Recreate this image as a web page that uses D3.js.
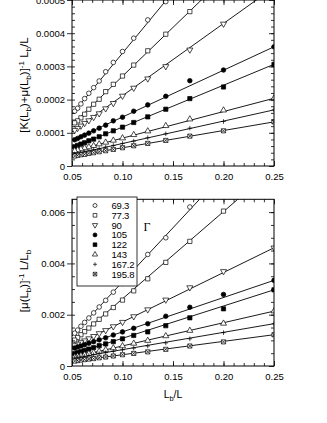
<!DOCTYPE html>
<html>
<head>
<meta charset="utf-8">
<script src="https://cdn.jsdelivr.net/npm/d3@7"></script>
<style>
  body { margin: 0; background: #fff; }
  svg text { font-family: "Liberation Sans", Arial, sans-serif; fill: #000; }
</style>
</head>
<body>
<svg id="chart" width="327" height="423"></svg>
<script>
// x = Lb/L  (L = 4 Lb ... 19 Lb)
var xVals = [0.25, 0.2, 0.16667, 0.14286, 0.125, 0.11111, 0.1, 0.09091, 0.08333, 0.07692, 0.07143, 0.06667, 0.0625, 0.05882, 0.05556, 0.05263];
var gammas = ["69.3", "77.3", "90", "105", "122", "143", "167.2", "195.8"];
var kinds = ["circle", "square", "tridown", "dot", "box", "triup", "plus", "xbox"];

// upper panel: [K(Lb)+mu(Lb)]^-1 Lb/L
var up693 = [null, null, null, 4.95e-4, 4.40e-4, 3.85e-4, 3.45e-4, 3.12e-4, 2.84e-4, 2.56e-4, 2.36e-4, 2.19e-4, 2.03e-4, 1.87e-4, 1.74e-4, 1.65e-4];
var up773 = [null, null, 4.65e-4, 3.97e-4, 3.47e-4, 3.04e-4, 2.71e-4, 2.46e-4, 2.24e-4, 2.01e-4, 1.86e-4, 1.71e-4, 1.56e-4, 1.45e-4, 1.36e-4, 1.30e-4];
var up90 = [null, 4.28e-4, 3.50e-4, 3.00e-4, 2.63e-4, 2.35e-4, 2.11e-4, 1.89e-4, 1.73e-4, 1.58e-4, 1.47e-4, 1.37e-4, 1.29e-4, 1.21e-4, 1.14e-4, 1.08e-4];
var up105 = [3.59e-4, 2.89e-4, 2.57e-4, 2.10e-4, 1.84e-4, 1.65e-4, 1.47e-4, 1.36e-4, 1.23e-4, 1.14e-4, 1.06e-4, 0.99e-4, 0.93e-4, 0.88e-4, 0.83e-4, 0.79e-4];
var up122 = [3.06e-4, 2.38e-4, 2.03e-4, 1.71e-4, 1.48e-4, 1.31e-4, 1.17e-4, 1.06e-4, 0.97e-4, 0.88e-4, 0.81e-4, 0.76e-4, 0.70e-4, 0.66e-4, 0.62e-4, 0.58e-4];
var up143 = [2.04e-4, 1.68e-4, 1.41e-4, 1.21e-4, 1.05e-4, 0.94e-4, 0.84e-4, 0.77e-4, 0.71e-4, 0.66e-4, 0.61e-4, 0.57e-4, 0.54e-4, 0.51e-4, 0.48e-4, 0.46e-4];
var up1672 = [1.69e-4, 1.34e-4, 1.14e-4, 0.97e-4, 0.85e-4, 0.75e-4, 0.68e-4, 0.62e-4, 0.57e-4, 0.52e-4, 0.49e-4, 0.45e-4, 0.43e-4, 0.40e-4, 0.38e-4, 0.36e-4];
var up1958 = [1.33e-4, 1.06e-4, 0.90e-4, 0.77e-4, 0.68e-4, 0.61e-4, 0.55e-4, 0.50e-4, 0.46e-4, 0.43e-4, 0.40e-4, 0.38e-4, 0.35e-4, 0.34e-4, 0.32e-4, 0.30e-4];
// straight-line fits y = a + b x
var upFitA = [-2.8e-5, -2.35e-5, -0.58e-5, 0.65e-5, -0.87e-5, 0.4e-5, 0.03e-5, 0.29e-5];
var upFitB = [36.8e-4, 29.4e-4, 21.75e-4, 14.1e-4, 12.6e-4, 8.0e-4, 6.75e-4, 5.2e-4];
var upTicks = [0, 0.0001, 0.0002, 0.0003, 0.0004, 0.0005];

// lower panel: [mu(Lb)]^-1 L/Lb
var lo693 = [null, null, 6.20e-3, 5.00e-3, 4.35e-3, 3.80e-3, 3.22e-3, 2.88e-3, 2.56e-3, 2.30e-3, 2.07e-3, 1.87e-3, 1.70e-3, 1.55e-3, 1.40e-3, 1.28e-3];
var lo773 = [null, 6.04e-3, 4.86e-3, 4.04e-3, 3.40e-3, 2.93e-3, 2.57e-3, 2.28e-3, 2.03e-3, 1.82e-3, 1.64e-3, 1.48e-3, 1.34e-3, 1.22e-3, 1.11e-3, 1.01e-3];
var lo90 = [4.61e-3, 3.69e-3, 3.06e-3, 2.58e-3, 2.20e-3, 1.93e-3, 1.71e-3, 1.54e-3, 1.39e-3, 1.27e-3, 1.16e-3, 1.07e-3, 0.99e-3, 0.92e-3, 0.86e-3, 0.80e-3];
var lo105 = [3.34e-3, 2.79e-3, 2.29e-3, 1.94e-3, 1.65e-3, 1.47e-3, 1.33e-3, 1.21e-3, 1.10e-3, 1.02e-3, 0.95e-3, 0.89e-3, 0.83e-3, 0.78e-3, 0.74e-3, 0.70e-3];
var lo122 = [2.97e-3, 2.23e-3, 1.88e-3, 1.57e-3, 1.33e-3, 1.19e-3, 1.06e-3, 0.95e-3, 0.86e-3, 0.79e-3, 0.72e-3, 0.66e-3, 0.61e-3, 0.56e-3, 0.52e-3, 0.48e-3];
var lo143 = [2.14e-3, 1.66e-3, 1.38e-3, 1.17e-3, 0.99e-3, 0.88e-3, 0.78e-3, 0.70e-3, 0.63e-3, 0.57e-3, 0.52e-3, 0.48e-3, 0.44e-3, 0.41e-3, 0.38e-3, 0.35e-3];
var lo1672 = [1.65e-3, 1.30e-3, 1.06e-3, 0.90e-3, 0.78e-3, 0.70e-3, 0.63e-3, 0.57e-3, 0.52e-3, 0.48e-3, 0.44e-3, 0.41e-3, 0.38e-3, 0.36e-3, 0.34e-3, 0.32e-3];
var lo1958 = [1.22e-3, 0.94e-3, 0.78e-3, 0.65e-3, 0.55e-3, 0.49e-3, 0.44e-3, 0.39e-3, 0.35e-3, 0.32e-3, 0.29e-3, 0.27e-3, 0.25e-3, 0.23e-3, 0.21e-3, 0.19e-3];
var loFitA = [-0.94e-3, -0.78e-3, -0.215e-3, -0.01e-3, -0.18e-3, -0.1225e-3, -0.0375e-3, -0.08e-3];
var loFitB = [42.2e-3, 34.0e-3, 19.3e-3, 13.4e-3, 12.6e-3, 9.05e-3, 6.75e-3, 5.2e-3];
var loTicks = [0, 0.002, 0.004, 0.006];

var xTicks = [0.05, 0.10, 0.15, 0.20, 0.25];

var svg = d3.select("#chart");
var x = d3.scaleLinear().domain([0.05, 0.25]).range([72, 274]);
var xMinor = d3.range(0.06, 0.25, 0.01);

// marker outlines
function markerPath(kind, s) {
  var h = s / 2;
  if (kind == "circle" || kind == "dot") return d3.symbol(d3.symbolCircle, Math.PI * h * h)();
  if (kind == "square" || kind == "box") return d3.symbol(d3.symbolSquare, s * s * 0.85)();
  if (kind == "triup") return d3.symbol(d3.symbolTriangle, s * s * 0.75)();
  if (kind == "tridown") return d3.symbol(d3.symbolTriangle, s * s * 0.75)();
  if (kind == "plus") return "M" + (-h) + ",0H" + h + "M0," + (-h) + "V" + h;
  if (kind == "xbox") {
    var q = h * 0.9;
    return "M" + -q + "," + -q + "H" + q + "V" + q + "H" + -q + "Z" +
      "M" + -q + "," + -q + "L" + q + "," + q + "M" + q + "," + -q + "L" + -q + "," + q;
  }
}
function addMarker(g, kind, cx, cy, s) {
  g.append("path")
    .attr("d", markerPath(kind, s))
    .attr("transform", "translate(" + cx + "," + cy + ")" + (kind == "tridown" ? " rotate(180)" : ""))
    .attr("fill", (kind == "dot" || kind == "box") ? "#000" : (kind == "plus" ? "none" : "#fff"))
    .attr("stroke", "#000")
    .attr("stroke-width", 0.7);
}

function styleAxis(g) {
  g.select(".domain").remove();
  g.attr("font-size", 9.5).attr("font-family", "Liberation Sans, Arial, sans-serif");
  g.selectAll("line").attr("stroke", "#000").attr("stroke-width", 0.8);
  g.selectAll("text").attr("fill", "#000");
}

function panel(id, yMax, yBottom, yTop, series, fitA, fitB, yTicks, yMinor, fmt) {
  var y = d3.scaleLinear().domain([0, yMax]).range([yBottom, yTop]);

  svg.append("clipPath").attr("id", id).append("rect")
    .attr("x", 72).attr("y", yTop).attr("width", 202).attr("height", yBottom - yTop);

  var plot = svg.append("g").attr("clip-path", "url(#" + id + ")");

  // fitted lines
  for (var k = 0; k < series.length; k++) {
    plot.append("line")
      .attr("x1", x(0.05)).attr("y1", y(fitA[k] + fitB[k] * 0.05))
      .attr("x2", x(0.25)).attr("y2", y(fitA[k] + fitB[k] * 0.25))
      .attr("stroke", "#000").attr("stroke-width", 0.9);
  }
  // data points
  for (var k = 0; k < series.length; k++) {
    for (var i = 0; i < xVals.length; i++) {
      if (series[k][i] == null) continue;
      addMarker(plot, kinds[k], x(xVals[i]), y(series[k][i]), 4.6);
    }
  }

  // axes: ticks inside on bottom/top/right, labels left & bottom
  styleAxis(svg.append("g").attr("transform", "translate(0," + yBottom + ")")
    .call(d3.axisBottom(x).tickValues(xTicks).tickSize(-5).tickPadding(7).tickFormat(d3.format(".2f"))));
  styleAxis(svg.append("g").attr("transform", "translate(0," + yBottom + ")")
    .call(d3.axisBottom(x).tickValues(xMinor).tickSize(-3).tickFormat("")));
  styleAxis(svg.append("g").attr("transform", "translate(0," + yTop + ")")
    .call(d3.axisTop(x).tickValues(xTicks).tickSize(-5).tickFormat("")));
  styleAxis(svg.append("g").attr("transform", "translate(0," + yTop + ")")
    .call(d3.axisTop(x).tickValues(xMinor).tickSize(-3).tickFormat("")));
  styleAxis(svg.append("g").attr("transform", "translate(72,0)")
    .call(d3.axisLeft(y).tickValues(yTicks).tickSize(5).tickPadding(2).tickFormat(fmt)));
  styleAxis(svg.append("g").attr("transform", "translate(72,0)")
    .call(d3.axisLeft(y).tickValues(yMinor).tickSize(-3).tickFormat("")));
  styleAxis(svg.append("g").attr("transform", "translate(274,0)")
    .call(d3.axisRight(y).tickValues(yTicks).tickSize(-5).tickFormat("")));
  styleAxis(svg.append("g").attr("transform", "translate(274,0)")
    .call(d3.axisRight(y).tickValues(yMinor).tickSize(-3).tickFormat("")));

  svg.append("rect")
    .attr("x", 72).attr("y", yTop).attr("width", 202).attr("height", yBottom - yTop)
    .attr("fill", "none").attr("stroke", "#000").attr("stroke-width", 1);
  return y;
}

function richText(parent, parts, size) {
  var shift = 0;
  parts.forEach(function(p) {
    var target = p[1] == "sub" ? 2.8 : (p[1] == "sup" ? -4 : 0);
    parent.append("tspan")
      .attr("dy", target - shift)
      .attr("font-size", p[1] ? size * 0.7 : size)
      .text(p[0]);
    shift = target;
  });
}

var fmtUp = function(d) { return d == 0 ? "0" : d3.format(".4f")(d); };
var fmtLo = function(d) { return d == 0 ? "0" : d3.format(".3f")(d); };

panel("clipUp", 0.0005, 166, 0,
  [up693, up773, up90, up105, up122, up143, up1672, up1958],
  upFitA, upFitB, upTicks, d3.range(0.00002, 0.0005, 0.00002), fmtUp);

panel("clipLo", 0.0065, 366, 199.3,
  [lo693, lo773, lo90, lo105, lo122, lo143, lo1672, lo1958],
  loFitA, loFitB, loTicks, d3.range(0.0005, 0.0065, 0.0005), fmtLo);

// y titles
richText(svg.append("text").attr("text-anchor", "middle")
  .attr("transform", "translate(28,85) rotate(-90)"),
  [["[K(L"], ["b", "sub"], [")+\u03bc(L"], ["b", "sub"], [")]"], ["-1", "sup"], [" L"], ["b", "sub"], ["/L"]], 11.5);

richText(svg.append("text").attr("text-anchor", "middle")
  .attr("transform", "translate(28,281) rotate(-90)"),
  [["[\u03bc(L"], ["b", "sub"], [")]"], ["-1", "sup"], [" L/L"], ["b", "sub"]], 11.5);

// x title
richText(svg.append("text").attr("text-anchor", "middle").attr("x", 173).attr("y", 398),
  [["L"], ["b", "sub"], ["/L"]], 10.5);

// legend
var leg = svg.append("g");
leg.append("rect").attr("x", 77).attr("y", 197).attr("width", 60).attr("height", 89)
  .attr("fill", "#fff").attr("stroke", "#000").attr("stroke-width", 0.8);
gammas.forEach(function(gm, k) {
  var cy = 205.5 + k * 9.8;
  addMarker(leg, kinds[k], 95, cy, 4);
  leg.append("text").attr("x", 111.5).attr("y", cy).attr("dy", "0.36em")
    .attr("font-size", 9.5).attr("letter-spacing", -0.2).text(gm);
});
svg.append("text").attr("x", 147).attr("y", 231)
  .style("font-family", "'Liberation Serif', 'Times New Roman', serif")
  .attr("text-anchor", "middle").attr("font-size", 12).text("\u0393");
</script>
</body>
</html>
